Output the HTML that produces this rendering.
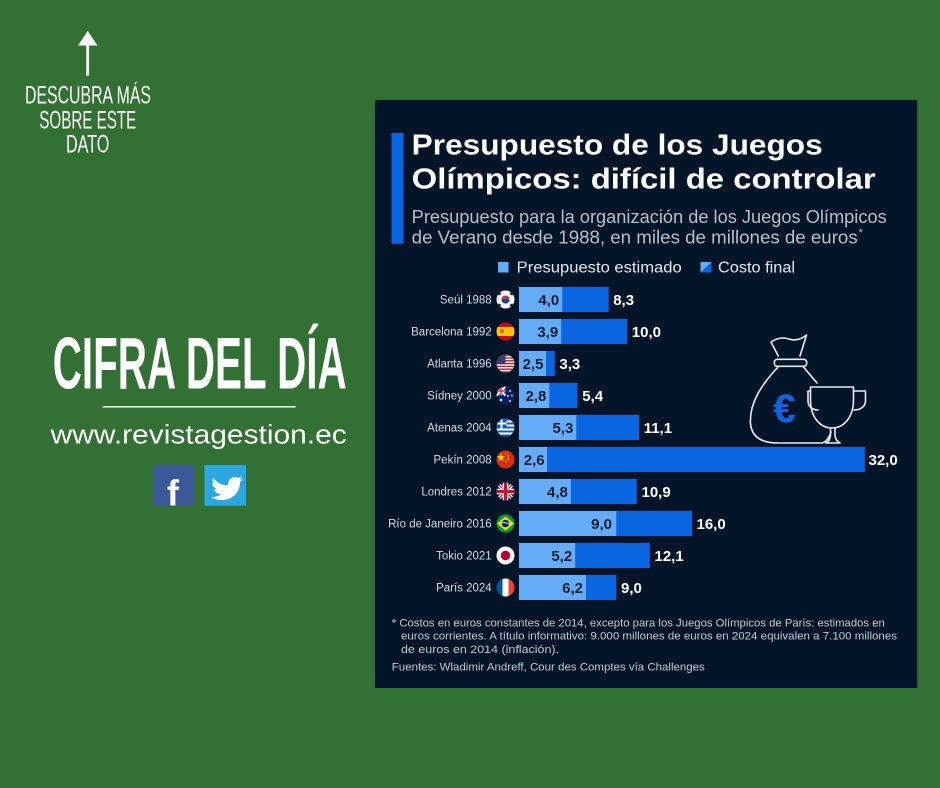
<!DOCTYPE html>
<html><head><meta charset="utf-8"><style>
html,body{margin:0;padding:0;background:#337033;}
svg{display:block;}
</style></head><body>
<svg width="940" height="788" viewBox="0 0 940 788" xmlns="http://www.w3.org/2000/svg" font-family="'Liberation Sans', sans-serif">
<defs><clipPath id="fc"><circle cx="0" cy="0" r="9"/></clipPath></defs>
<rect width="940" height="788" fill="#337033"/>

<!-- Left side -->
<rect x="86.3" y="44" width="2.8" height="32" fill="#fff"/>
<polygon points="78,45.5 97.5,45.5 87.7,31" fill="#fff"/>
<g fill="#fff" font-size="25">
<text x="25" y="103.3" textLength="126" lengthAdjust="spacingAndGlyphs">DESCUBRA MÁS</text>
<text x="39.3" y="128.3" textLength="97" lengthAdjust="spacingAndGlyphs">SOBRE ESTE</text>
<text x="66" y="152.7" textLength="43.3" lengthAdjust="spacingAndGlyphs">DATO</text>
</g>
<text x="52.7" y="388.3" font-size="73" font-weight="bold" fill="#fff" textLength="294" lengthAdjust="spacingAndGlyphs">CIFRA DEL DÍA</text>
<rect x="102.7" y="406" width="193" height="1.6" fill="#e8efe8"/>
<text x="50.7" y="443.3" font-size="27" fill="#fff" textLength="296" lengthAdjust="spacingAndGlyphs">www.revistagestion.ec</text>
<rect x="153.3" y="465" width="40.7" height="40.7" fill="#3b5998"/>
<text x="167" y="505.7" font-size="36" font-weight="bold" fill="#fff">f</text>
<rect x="204.3" y="465" width="41.7" height="40.7" fill="#2aa7df"/>
<path d="M213,478 C218,483 223,486 228,485 C228,479 233,475 238,478 L242,476 L240,480 L243,479 L240,482 C240,493 232,500 222,500 C218,500 214,499 211,497 C216,497 219,496 221,494 C217,494 215,492 214,489 L217,489 C214,488 212,485 212,483 L215,484 C212,482 212,480 213,478 Z" fill="#fff"/>

<!-- Panel -->
<rect x="375" y="100" width="542.3" height="588" fill="#021428"/>
<rect x="391.5" y="133" width="12" height="110.7" fill="#0a65e0"/>
<g fill="#fff" font-weight="bold" font-size="29">
<text x="411.7" y="154.7" textLength="411" lengthAdjust="spacingAndGlyphs">Presupuesto de los Juegos</text>
<text x="411.7" y="188.7" textLength="464" lengthAdjust="spacingAndGlyphs">Olímpicos: difícil de controlar</text>
</g>
<g fill="#b9bec8" font-size="18">
<text x="411.7" y="223" textLength="475" lengthAdjust="spacingAndGlyphs">Presupuesto para la organización de los Juegos Olímpicos</text>
<text x="411.7" y="243.7" textLength="446" lengthAdjust="spacingAndGlyphs">de Verano desde 1988, en miles de millones de euros</text>
<text x="858.5" y="236" font-size="11">*</text>
</g>
<!-- Legend -->
<rect x="498" y="262" width="10.5" height="10.5" fill="#64acf6"/>
<text x="516.7" y="272.3" font-size="15.5" fill="#e4e8ee" textLength="165" lengthAdjust="spacingAndGlyphs">Presupuesto estimado</text>
<rect x="700.5" y="262" width="11" height="10.5" fill="#0a65e0"/>
<polygon points="700.5,262 711.5,262 700.5,272.5" fill="#64acf6"/>
<text x="718" y="272.3" font-size="15.5" fill="#e4e8ee" textLength="77" lengthAdjust="spacingAndGlyphs">Costo final</text>

<!-- Icons -->
<g fill="none" stroke="#e8ecf2" stroke-width="1.6" stroke-linejoin="round" stroke-linecap="round">
<path d="M771,342 Q780,336 789,339 Q798,342 806.5,335 L800,356 M771,342 L778.3,356"/>
<rect x="774.3" y="359.3" width="32.4" height="7" rx="3"/>
<path d="M778.5,366.5 C762,384 749,403 750.5,424 C752,438 763,443 778,443 L822,443 C826,442 829,438 831,432"/>
<path d="M803,366.5 L817,383"/>
<path d="M810.5,387 L853.5,387 L853.5,400 C853.5,417 844,428 832,428 C820,428 810.5,417 810.5,400 Z"/>
<path d="M810.5,391 L808,391 L808,401 C808,406 812,410 818,410"/>
<path d="M853.5,391 L865.5,391 L865.5,401 C865.5,406 861,410 854,410"/>
<path d="M830.5,428.5 L830.5,435 Q830,441 826,443 L840,443 Q835.5,441 835,435 L835,428.5"/>
</g>
<text x="784.5" y="422" font-size="40" font-weight="bold" fill="#0b66e4" text-anchor="middle">€</text>

<!-- Bars -->
<g>
<rect x="519" y="287" width="89.7" height="25" fill="#0a65e0"/><rect x="519" y="287" width="43.2" height="25" fill="#64acf6"/>
<rect x="519" y="319" width="108.1" height="25" fill="#0a65e0"/><rect x="519" y="319" width="42.2" height="25" fill="#64acf6"/>
<rect x="519" y="351" width="35.7" height="25" fill="#0a65e0"/><rect x="519" y="351" width="27" height="25" fill="#64acf6"/>
<rect x="519" y="383" width="58.4" height="25" fill="#0a65e0"/><rect x="519" y="383" width="30.3" height="25" fill="#64acf6"/>
<rect x="519" y="415" width="120" height="25" fill="#0a65e0"/><rect x="519" y="415" width="57.3" height="25" fill="#64acf6"/>
<rect x="519" y="447" width="345.9" height="25" fill="#0a65e0"/><rect x="519" y="447" width="28.1" height="25" fill="#64acf6"/>
<rect x="519" y="479" width="117.8" height="25" fill="#0a65e0"/><rect x="519" y="479" width="51.9" height="25" fill="#64acf6"/>
<rect x="519" y="511" width="173" height="25" fill="#0a65e0"/><rect x="519" y="511" width="97.3" height="25" fill="#64acf6"/>
<rect x="519" y="543" width="130.8" height="25" fill="#0a65e0"/><rect x="519" y="543" width="56.2" height="25" fill="#64acf6"/>
<rect x="519" y="575" width="97.3" height="25" fill="#0a65e0"/><rect x="519" y="575" width="67" height="25" fill="#64acf6"/>
</g>
<g font-size="15" font-weight="bold" fill="#0c1c33" text-anchor="end">
<text x="559.2" y="305">4,0</text>
<text x="558.2" y="337">3,9</text>
<text x="543.5" y="369">2,5</text>
<text x="546.3" y="401">2,8</text>
<text x="573.3" y="433">5,3</text>
<text x="544.6" y="465">2,6</text>
<text x="567.9" y="497">4,8</text>
<text x="612" y="529">9,0</text>
<text x="572.2" y="561">5,2</text>
<text x="583" y="593">6,2</text>
</g>
<g font-size="15" font-weight="bold" fill="#fff">
<text x="613.2" y="305">8,3</text>
<text x="631.8" y="337">10,0</text>
<text x="559.4" y="369">3,3</text>
<text x="582.2" y="401">5,4</text>
<text x="643.7" y="433">11,1</text>
<text x="868.5" y="465">32,0</text>
<text x="641.5" y="497">10,9</text>
<text x="696.5" y="529">16,0</text>
<text x="654.5" y="561">12,1</text>
<text x="621" y="593">9,0</text>
</g>
<g font-size="11.5" fill="#d4d9e0" text-anchor="end">
<text x="491.7" y="303.7">Seúl 1988</text>
<text x="491.7" y="335.7">Barcelona 1992</text>
<text x="491.7" y="367.7">Atlanta 1996</text>
<text x="491.7" y="399.7">Sídney 2000</text>
<text x="491.7" y="431.7">Atenas 2004</text>
<text x="491.7" y="463.7">Pekín 2008</text>
<text x="491.7" y="495.7">Londres 2012</text>
<text x="491.7" y="527.7">Río de Janeiro 2016</text>
<text x="491.7" y="559.7">Tokio 2021</text>
<text x="491.7" y="591.7">París 2024</text>
</g>

<!-- Flags -->
<g transform="translate(505.5,299.5)"><g clip-path="url(#fc)">
<rect x="-9" y="-9" width="18" height="18" fill="#fff"/>
<circle r="4" fill="#cd2e3a"/><path d="M-4,0 A4,4 0 0,0 4,0 Z" fill="#0047a0"/>
<g fill="#111"><rect x="-7.5" y="-6.5" width="3.2" height="2" transform="rotate(-35 -6 -5.5)"/><rect x="4.3" y="-6.5" width="3.2" height="2" transform="rotate(35 6 -5.5)"/><rect x="-7.5" y="4.5" width="3.2" height="2" transform="rotate(35 -6 5.5)"/><rect x="4.3" y="4.5" width="3.2" height="2" transform="rotate(-35 6 5.5)"/></g>
</g></g>
<g transform="translate(505.5,331.5)"><g clip-path="url(#fc)">
<rect x="-9" y="-9" width="18" height="18" fill="#c60b1e"/><rect x="-9" y="-4.5" width="18" height="9" fill="#ffc400"/><rect x="-5" y="-2.5" width="3" height="4" fill="#b5651d"/>
</g></g>
<g transform="translate(505.5,363.5)"><g clip-path="url(#fc)">
<rect x="-9" y="-9" width="18" height="18" fill="#fff"/>
<g fill="#b22234"><rect x="-9" y="-9" width="18" height="1.4"/><rect x="-9" y="-6.2" width="18" height="1.4"/><rect x="-9" y="-3.4" width="18" height="1.4"/><rect x="-9" y="-0.6" width="18" height="1.4"/><rect x="-9" y="2.2" width="18" height="1.4"/><rect x="-9" y="5" width="18" height="1.4"/><rect x="-9" y="7.8" width="18" height="1.4"/></g>
<rect x="-9" y="-9" width="9" height="9.7" fill="#3c3b6e"/>
</g></g>
<g transform="translate(505.5,395.5)"><g clip-path="url(#fc)">
<rect x="-9" y="-9" width="18" height="18" fill="#012169"/>
<path d="M-9,-9 L0,0 M0,-9 L-9,0" stroke="#fff" stroke-width="2"/>
<path d="M-4.5,-9 V0 M-9,-4.5 H0" stroke="#fff" stroke-width="2.6"/>
<path d="M-4.5,-9 V0 M-9,-4.5 H0" stroke="#c8102e" stroke-width="1.3"/>
<g fill="#fff"><circle cx="-4.5" cy="4.5" r="1.3"/><circle cx="4.5" cy="-4.5" r="0.9"/><circle cx="6.5" cy="0" r="0.9"/><circle cx="4.5" cy="5.5" r="0.9"/><circle cx="2.5" cy="0.5" r="0.9"/></g>
</g></g>
<g transform="translate(505.5,427.5)"><g clip-path="url(#fc)">
<rect x="-9" y="-9" width="18" height="18" fill="#fff"/>
<g fill="#0d5eaf"><rect x="-9" y="-9" width="18" height="2"/><rect x="-9" y="-5" width="18" height="2"/><rect x="-9" y="-1" width="18" height="2"/><rect x="-9" y="3" width="18" height="2"/><rect x="-9" y="7" width="18" height="2"/><rect x="-9" y="-9" width="10" height="10"/></g>
<rect x="-5" y="-9" width="2" height="10" fill="#fff"/><rect x="-9" y="-5" width="10" height="2" fill="#fff"/>
</g></g>
<g transform="translate(505.5,459.5)"><g clip-path="url(#fc)">
<rect x="-9" y="-9" width="18" height="18" fill="#de2910"/>
<polygon points="-4.5,-6.5 -3.4,-3.3 -0.2,-3.3 -2.8,-1.3 -1.8,1.8 -4.5,0 -7.2,1.8 -6.2,-1.3 -8.8,-3.3 -5.6,-3.3" fill="#ffde00"/>
<g fill="#ffde00"><circle cx="0.5" cy="-6" r="0.9"/><circle cx="2.5" cy="-3.5" r="0.9"/><circle cx="2.5" cy="-0.5" r="0.9"/><circle cx="0.5" cy="2" r="0.9"/></g>
</g></g>
<g transform="translate(505.5,491.5)"><g clip-path="url(#fc)">
<rect x="-9" y="-9" width="18" height="18" fill="#012169"/>
<path d="M-9,-9 L9,9 M9,-9 L-9,9" stroke="#fff" stroke-width="3.6"/>
<path d="M-9,-9 L9,9 M9,-9 L-9,9" stroke="#c8102e" stroke-width="1.2"/>
<path d="M0,-9 V9 M-9,0 H9" stroke="#fff" stroke-width="5.5"/>
<path d="M0,-9 V9 M-9,0 H9" stroke="#c8102e" stroke-width="3.2"/>
</g></g>
<g transform="translate(505.5,523.5)"><g clip-path="url(#fc)">
<rect x="-9" y="-9" width="18" height="18" fill="#009c3b"/>
<polygon points="0,-7 8.5,0 0,7 -8.5,0" fill="#ffdf00"/>
<circle r="3.8" fill="#002776"/>
<path d="M-3.8,-0.6 Q0,-1.6 3.8,0.6" stroke="#fff" stroke-width="0.8" fill="none"/>
</g></g>
<g transform="translate(505.5,555.5)"><g clip-path="url(#fc)">
<rect x="-9" y="-9" width="18" height="18" fill="#fff"/><circle r="4.7" fill="#bc002d"/>
</g></g>
<g transform="translate(505.5,587.5)"><g clip-path="url(#fc)">
<rect x="-9" y="-9" width="6" height="18" fill="#0055a4"/><rect x="-3" y="-9" width="6" height="18" fill="#fff"/><rect x="3" y="-9" width="6" height="18" fill="#ef4135"/>
</g></g>

<!-- Footnotes -->
<g fill="#c3c8d0" font-size="11.2">
<text x="391.8" y="626.7" textLength="493" lengthAdjust="spacingAndGlyphs">* Costos en euros constantes de 2014, excepto para los Juegos Olímpicos de París: estimados en</text>
<text x="401" y="639.5" textLength="496" lengthAdjust="spacingAndGlyphs">euros corrientes. A título informativo: 9.000 millones de euros en 2024 equivalen a 7.100 millones</text>
<text x="401" y="653" textLength="158" lengthAdjust="spacingAndGlyphs">de euros en 2014 (inflación).</text>
<text x="391.8" y="670.7" textLength="313" lengthAdjust="spacingAndGlyphs">Fuentes: Wladimir Andreff, Cour des Comptes vía Challenges</text>
</g>
</svg>
</body></html>
